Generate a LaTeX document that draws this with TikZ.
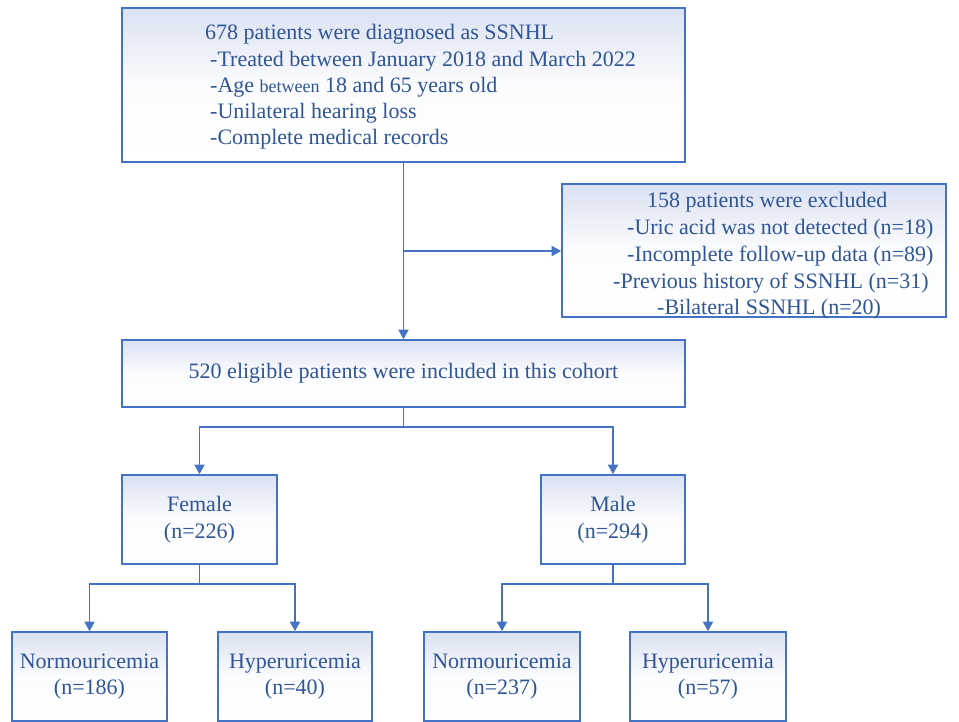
\documentclass[tikz,border=0pt]{standalone}
\usepackage{fontspec}
\setmainfont{Liberation Serif}
\usetikzlibrary{arrows.meta,positioning}
\definecolor{lineblue}{HTML}{4472C4}
\definecolor{textblue}{HTML}{2F5597}
\definecolor{fillblue}{HTML}{DAE1F1}
\tikzset{
  box/.style={draw=lineblue, line width=1.6pt, left color=fillblue, right color=white, middle color=white!90!fillblue, shading angle=0, rectangle, inner sep=0pt, text=textblue, align=center, font=\fontsize{22}{26.4}\selectfont},
  txt/.style={text=textblue, inner sep=0pt, anchor=base west, font=\fontsize{22}{26.4}\selectfont},
  conn/.style={draw=lineblue, line width=1.6pt},
  arr/.style={conn, -{Triangle[length=9.5pt,width=10pt]}}
}
\begin{document}
\begin{tikzpicture}[x=1pt,y=-1pt]
\useasboundingbox (0,0) rectangle (959,721);
% boxes
\node[box, minimum width=563pt, minimum height=154pt] (b1) at (403.5,85) {};
\node[box, minimum width=384pt, minimum height=133pt] (exc) at (754,250.5) {};
\node[box, minimum width=563pt, minimum height=67pt] (b3) at (403.5,373.5) {520 eligible patients were included in this cohort};
\node[box, minimum width=155pt, minimum height=89pt] (fem) at (199.5,519.5) {Female\\(n=226)};
\node[box, minimum width=144pt, minimum height=89pt] (mal) at (613,519.5) {Male\\(n=294)};
\node[box, minimum width=155pt, minimum height=89pt] (n1) at (89.5,676.5) {Normouricemia\\(n=186)};
\node[box, minimum width=154pt, minimum height=89pt] (h1) at (295,676.5) {Hyperuricemia\\(n=40)};
\node[box, minimum width=156pt, minimum height=89pt] (n2) at (502,676.5) {Normouricemia\\(n=237)};
\node[box, minimum width=156pt, minimum height=89pt] (h2) at (708,676.5) {Hyperuricemia\\(n=57)};
% box 1 text
\node[txt] (t1) at (205,39) {678 patients were diagnosed as SSNHL};
\node[txt] (t2) at (210,66) {-Treated between January 2018 and March 2022};
\node[txt] (t3) at (210,92) {-Age {\fontsize{18}{20}\selectfont between} 18 and 65 years old};
\node[txt] (t4) at (210,118) {-Unilateral hearing loss};
\node[txt] (t5) at (210,144) {-Complete medical records};
% excluded text
\node[txt] (e1) at (647,207) {158 patients were excluded};
\node[txt] (e2) at (627,234) {-Uric acid was not detected (n=18)};
\node[txt] (e3) at (627,261) {-Incomplete follow-up data (n=89)};
\node[txt] (e4) at (613,288) {-Previous history of SSNHL (n=31)};
\node[txt] (e5) at (657,314) {-Bilateral SSNHL (n=20)};
% connectors
\coordinate (j1) at (403,251);
\coordinate (j2) at (403.5,427);
\coordinate (j3) at (199.5,584);
\coordinate (j4) at (613,584);
\draw[arr] (b1.south) -- (b3.north);
\draw[arr] (j1) -- (j1 -| exc.west);
\draw[conn] (b3.south) -- (j2);
\draw[arr] (j2) -| (fem.north);
\draw[arr] (j2) -| (mal.north);
\draw[conn] (fem.south) -- (j3);
\draw[arr] (j3) -| (n1.north);
\draw[arr] (j3) -| (h1.north);
\draw[conn] (mal.south) -- (j4);
\draw[arr] (j4) -| (n2.north);
\draw[arr] (j4) -| (h2.north);
\end{tikzpicture}
\end{document}
